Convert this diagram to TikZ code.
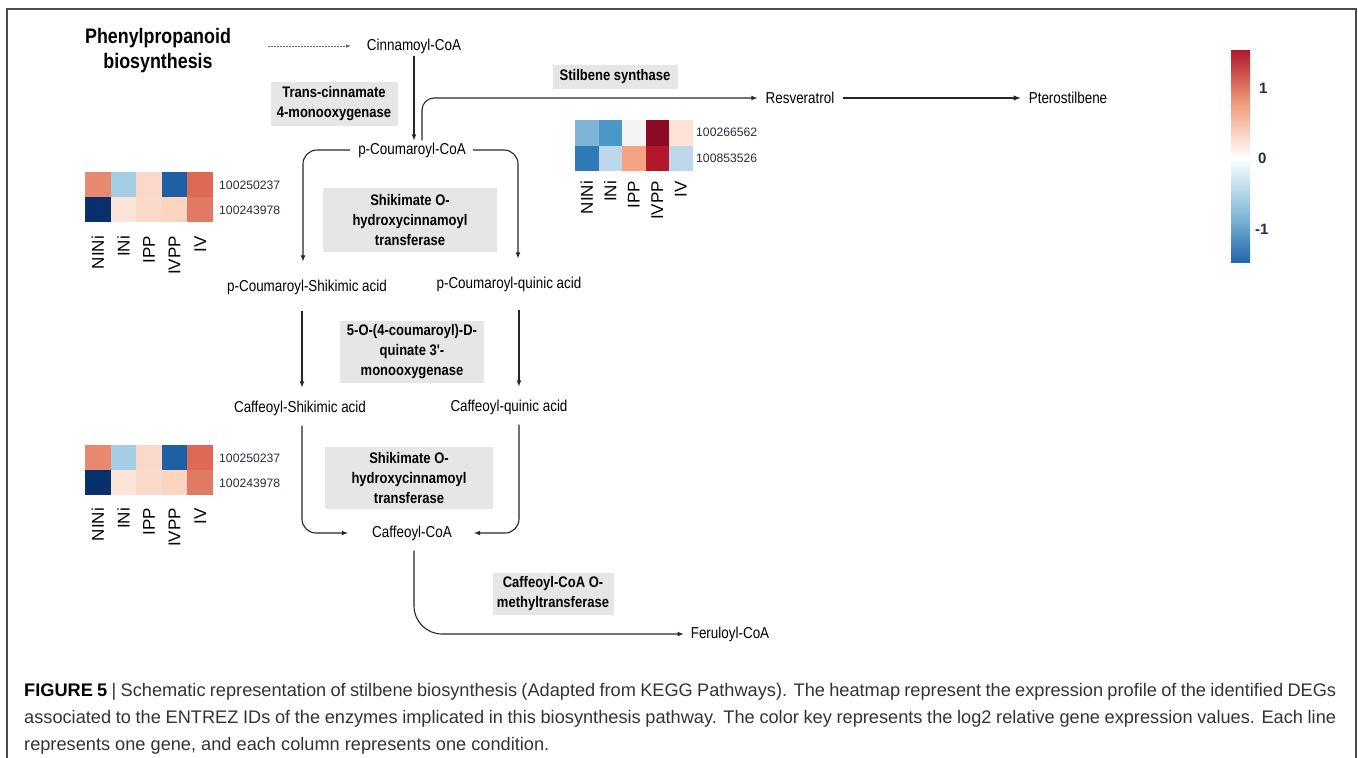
\documentclass[tikz,border=0pt]{standalone}
\usepackage{fontspec}
\setmainfont{Liberation Sans}
\newfontfamily\narrow[FakeStretch=0.85]{Liberation Sans}
\usepackage{xcolor}
\usetikzlibrary{shapes,backgrounds,arrows,fit,positioning}

\definecolor{enz}{HTML}{E6E6E6}
\definecolor{idtext}{HTML}{2C2C40}
\definecolor{ha1}{HTML}{E8896F}\definecolor{ha2}{HTML}{A2CDE3}\definecolor{ha3}{HTML}{FBD9C8}
\definecolor{ha4}{HTML}{1F5FA3}\definecolor{ha5}{HTML}{DC6A55}
\definecolor{hb1}{HTML}{08306B}\definecolor{hb2}{HTML}{FBE5D9}\definecolor{hb3}{HTML}{FBDACA}
\definecolor{hb4}{HTML}{FCD5C0}\definecolor{hb5}{HTML}{E07A62}
\definecolor{sa1}{HTML}{7FB4D6}\definecolor{sa2}{HTML}{4A98C9}\definecolor{sa3}{HTML}{F6F4F2}
\definecolor{sa4}{HTML}{8B0A24}\definecolor{sa5}{HTML}{FBE3D6}
\definecolor{sb1}{HTML}{2E7BB8}\definecolor{sb2}{HTML}{BCD8EA}\definecolor{sb3}{HTML}{F4A482}
\definecolor{sb4}{HTML}{B2182B}\definecolor{sb5}{HTML}{BCD8EA}
\definecolor{cbred}{HTML}{B2182B}\definecolor{cbsalmon}{HTML}{F19C7C}
\definecolor{cbsky}{HTML}{8EC1DC}\definecolor{cbblue}{HTML}{2166AC}

\begin{document}
\begin{tikzpicture}[x=1pt, y=-1pt, node distance=1.5cm, auto,
  met/.style={font=\narrow\fontsize{15.8}{18}\selectfont, inner sep=2pt},
  enzyme/.style={fill=enz, align=center, inner sep=2pt,
    font=\narrow\bfseries\fontsize{15.3}{20}\selectfont},
  flow/.style={-latex, line width=1.1pt, draw=black!85},
  idlab/.style={font=\fontsize{12.2}{14}\selectfont, text=idtext, anchor=west, inner sep=1pt},
  condlab/.style={font=\fontsize{17}{20}\selectfont, rotate=90, anchor=east, inner sep=0pt},
  keylab/.style={font=\bfseries\fontsize{15}{17}\selectfont, text=idtext, anchor=west, inner sep=0pt}]
\useasboundingbox (0,0) rectangle (1358,758);
\draw [black!70, line width=1.2pt] (7,758) -- (7,9) -- (1356,9) -- (1356,758);

\node [font=\narrow\bfseries\fontsize{21}{25}\selectfont, align=center] (phen) at (158,51) {Phenylpropanoid\\biosynthesis};
\node [met] (cinn) at (414,46) {Cinnamoyl-CoA};
\node [met] (pcoa) at (412,150) {p-Coumaroyl-CoA};
\node [met] (resv) at (800,98) {Resveratrol};
\node [met] (pter) at (1068,98) {Pterostilbene};
\node [met] (pcs) at (307,287) {p-Coumaroyl-Shikimic acid};
\node [met] (pcq) at (509,284) {p-Coumaroyl-quinic acid};
\node [met] (cs) at (300,408) {Caffeoyl-Shikimic acid};
\node [met] (cq) at (509,407) {Caffeoyl-quinic acid};
\node [met] (ccoa) at (412,533) {Caffeoyl-CoA};
\node [met] (fcoa) at (730,634) {Feruloyl-CoA};

\node [enzyme, minimum width=127pt, minimum height=44pt] (tc4m) at (334,104) {Trans-cinnamate\\4-monooxygenase};
\node [enzyme, minimum width=125pt, minimum height=24pt] (sts) at (615,77) {Stilbene synthase};
\node [enzyme, minimum width=174pt, minimum height=64pt] (hct1) at (410,220) {Shikimate O-\\hydroxycinnamoyl\\transferase};
\node [enzyme, minimum width=144pt, minimum height=62pt] (c3h) at (412,352) {5-O-(4-coumaroyl)-D-\\quinate 3'-\\monooxygenase};
\node [enzyme, minimum width=168pt, minimum height=62pt] (hct2) at (409,478) {Shikimate O-\\hydroxycinnamoyl\\transferase};
\node [enzyme, minimum width=121pt, minimum height=42pt] (ccomt) at (553,594) {Caffeoyl-CoA O-\\methyltransferase};

\coordinate (dstart) at (268,46);
\draw [-latex, black!60, line width=0.6pt, dash pattern=on 2pt off 1pt, shorten >=14pt] (dstart) -- (cinn.west);
\draw [flow] (cinn.south) -- (cinn.south |- pcoa.north);
\draw [flow, rounded corners=12pt, shorten >=6pt] ([xshift=10pt]pcoa.north) |- (resv.west);
\draw [flow, line width=1.4pt, shorten <=6pt, shorten >=6pt] (resv) -- (pter);
\draw [flow, rounded corners=14pt, shorten <=6pt, shorten >=16pt] (pcoa.west) -| ([xshift=-4pt]pcs.north);
\draw [flow, rounded corners=14pt, shorten <=5pt, shorten >=16pt] (pcoa.east) -| ([xshift=9pt]pcq.north);
\draw [flow, shorten <=14pt, shorten >=11pt] ([xshift=-5pt]pcs.south) -- ([xshift=-5pt]pcs.south |- cs.north);
\draw [flow, shorten <=16pt, shorten >=11pt] ([xshift=10pt]pcq.south) -- ([xshift=10pt]pcq.south |- cq.north);
\draw [flow, rounded corners=14pt, shorten <=8pt, shorten >=22pt] ([xshift=2pt]cs.south) |- (ccoa.west);
\draw [flow, rounded corners=14pt, shorten <=8pt, shorten >=20pt] ([xshift=10pt]cq.south) |- (ccoa.east);
\draw [flow, rounded corners=28pt, shorten <=8pt, shorten >=5pt] ([xshift=2pt]ccoa.south) |- (fcoa.west);

\foreach \yy/\ly in {172/236, 445/508} {
  \foreach \ca/\cb [count=\i from 0] in {ha1/hb1, ha2/hb2, ha3/hb3, ha4/hb4, ha5/hb5} {
    \fill [\ca] (85+25.6*\i, \yy) rectangle ++(25.9, 25.3);
    \fill [\cb] (85+25.6*\i, \yy+25) rectangle ++(25.9, 25);
  }
  \foreach \lab [count=\i from 0] in {NINi, INi, IPP, IVPP, IV}
    \node [condlab] (c\yy\i) at (97.8+25.6*\i, \ly) {\lab};
}
\node [idlab] (idt1) at (218,185) {100250237};
\node [idlab] (idt2) at (218,210) {100243978};
\node [idlab] (idb1) at (218,458) {100250237};
\node [idlab] (idb2) at (218,483) {100243978};

\foreach \ca/\cb [count=\i from 0] in {sa1/sb1, sa2/sb2, sa3/sb3, sa4/sb4, sa5/sb5} {
  \fill [\ca] (575+23.5*\i, 120) rectangle ++(23.8, 25.8);
  \fill [\cb] (575+23.5*\i, 145.5) rectangle ++(23.8, 25.5);
}
\foreach \lab [count=\i from 0] in {NINi, INi, IPP, IVPP, IV}
  \node [condlab] (cs\i) at (586.8+23.5*\i, 181) {\lab};
\node [idlab] (ids1) at (695,132) {100266562};
\node [idlab] (ids2) at (695,158) {100853526};

\shade [top color=cbred, bottom color=white, middle color=cbsalmon] (1231,50) rectangle (1250,158);
\shade [top color=white, bottom color=cbblue, middle color=cbsky] (1231,158) rectangle (1250,262);
\node [keylab] (k1) at (1259,88) {1};
\node [keylab] (k0) at (1258,158) {0};
\node [keylab] (km1) at (1255,229) {-1};

\node [anchor=north west, inner sep=0pt, align=left, text=black!80, font=\fontsize{18.2}{27}\selectfont] (cap) at (24,683)
  {\hbox to 1312pt{{\color{black}\bfseries FIGURE 5} | Schematic representation of stilbene biosynthesis (Adapted from KEGG Pathways). The heatmap represent the expression profile of the identified DEGs}\\
   \hbox to 1312pt{associated to the ENTREZ IDs of the enzymes implicated in this biosynthesis pathway. The color key represents the log2 relative gene expression values. Each line}\\
   represents one gene, and each column represents one condition.};
\end{tikzpicture}
\end{document}
